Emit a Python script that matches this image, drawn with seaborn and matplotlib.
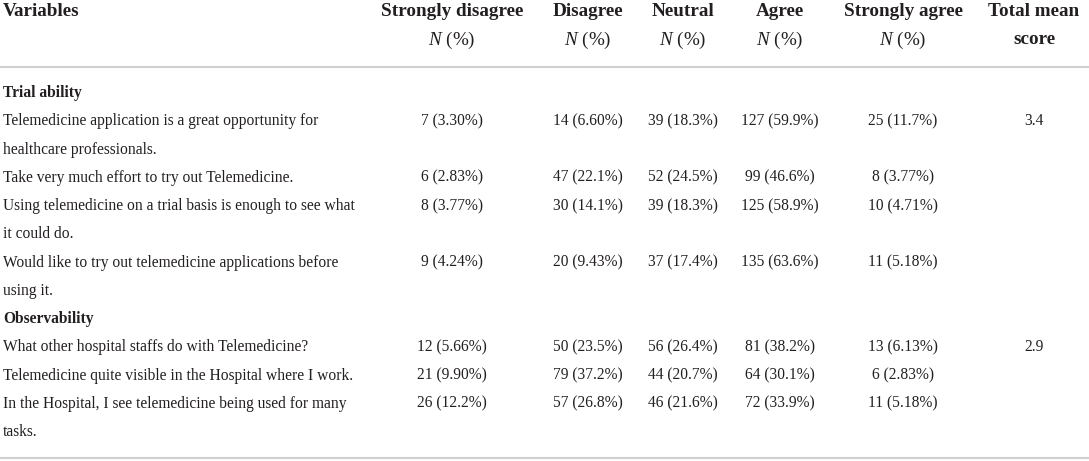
import matplotlib
matplotlib.use("Agg")
import matplotlib.pyplot as plt
import seaborn as sns
import pandas as pd

sns.set_theme(style="white")
plt.rcParams['font.family'] = ['Liberation Serif', 'DejaVu Serif']
plt.rcParams['mathtext.fontset'] = 'custom'
plt.rcParams['mathtext.it'] = 'Liberation Serif:italic'
plt.rcParams['mathtext.rm'] = 'Liberation Serif'

# data
headers = ["Strongly disagree", "Disagree", "Neutral", "Agree", "Strongly agree"]
sections = ["Trial ability", "Observability"]
section_of = [0, 0, 0, 0, 1, 1, 1]
variables = [
    "Telemedicine application is a great opportunity for\nhealthcare professionals.",
    "Take very much effort to try out Telemedicine.",
    "Using telemedicine on a trial basis is enough to see what\nit could do.",
    "Would like to try out telemedicine applications before\nusing it.",
    "What other hospital staffs do with Telemedicine?",
    "Telemedicine quite visible in the Hospital where I work.",
    "In the Hospital, I see telemedicine being used for many\ntasks.",
]
sd_n = [7, 6, 8, 9, 12, 21, 26]
sd_pct = [3.30, 2.83, 3.77, 4.24, 5.66, 9.90, 12.2]
d_n = [14, 47, 30, 20, 50, 79, 57]
d_pct = [6.60, 22.1, 14.1, 9.43, 23.5, 37.2, 26.8]
ne_n = [39, 52, 39, 37, 56, 44, 46]
ne_pct = [18.3, 24.5, 18.3, 17.4, 26.4, 20.7, 21.6]
a_n = [127, 99, 125, 135, 81, 64, 72]
a_pct = [59.9, 46.6, 58.9, 63.6, 38.2, 30.1, 33.9]
sa_n = [25, 8, 10, 11, 13, 6, 11]
sa_pct = [11.7, 3.77, 4.71, 5.18, 6.13, 2.83, 5.18]
mean_score = [3.4, 2.9]

df = pd.DataFrame({
    "var": variables, "sec": section_of,
    "sd_n": sd_n, "sd_p": sd_pct, "d_n": d_n, "d_p": d_pct,
    "ne_n": ne_n, "ne_p": ne_pct, "a_n": a_n, "a_p": a_pct,
    "sa_n": sa_n, "sa_p": sa_pct,
})

fig = plt.figure(figsize=(10.89, 4.61), dpi=100)
ax = fig.add_axes([0, 0, 1, 1])
ax.set_xlim(0, 1089)
ax.set_ylim(461, 0)
ax.axis("off")

ink = "#231f20"
rule = "#cfcfcf"
fs_head = 13.8
fs_body = 11.2
col_x = [452, 588, 683, 780, 903]
mean_x = 1034
left = 3

# header
ax.text(left, 12, "Variables", fontsize=fs_head, fontweight="bold", color=ink, va="center", ha="left")
for x, h in zip(col_x, headers):
    ax.text(x, 12, h, fontsize=fs_head, fontweight="bold", color=ink, va="center", ha="center")
    ax.text(x, 40, r"$\mathit{N}$ (%)", fontsize=fs_head, color=ink, va="center", ha="center")
ax.text(mean_x, 12, "Total mean", fontsize=fs_head, fontweight="bold", color=ink, va="center", ha="center")
ax.text(mean_x, 40, "score", fontsize=fs_head, fontweight="bold", color=ink, va="center", ha="center")

ax.axhline(67, color=rule, lw=1.5)
ax.axhline(458, color=rule, lw=1.5)

# body rows
y = 93
step = 28.25
cur = -1
for _, r in df.iterrows():
    if r["sec"] != cur:
        cur = r["sec"]
        ax.text(left, y, sections[cur], fontsize=fs_body, fontweight="bold", color=ink, va="center")
        y += step
        first = True
    else:
        first = False
    cells = [(r["sd_n"], r["sd_p"]), (r["d_n"], r["d_p"]), (r["ne_n"], r["ne_p"]),
             (r["a_n"], r["a_p"]), (r["sa_n"], r["sa_p"])]
    for x, (n, p) in zip(col_x, cells):
        ax.text(x, y, f"{int(n)} ({p:#.3g}%)", fontsize=fs_body, color=ink, va="center", ha="center")
    if first:
        ax.text(mean_x, y, f"{mean_score[cur]}", fontsize=fs_body, color=ink, va="center", ha="center")
    for line in r["var"].split("\n"):
        ax.text(left, y, line, fontsize=fs_body, color=ink, va="center", ha="left")
        y += step

fig.savefig("out.png", dpi=100, facecolor="white")
